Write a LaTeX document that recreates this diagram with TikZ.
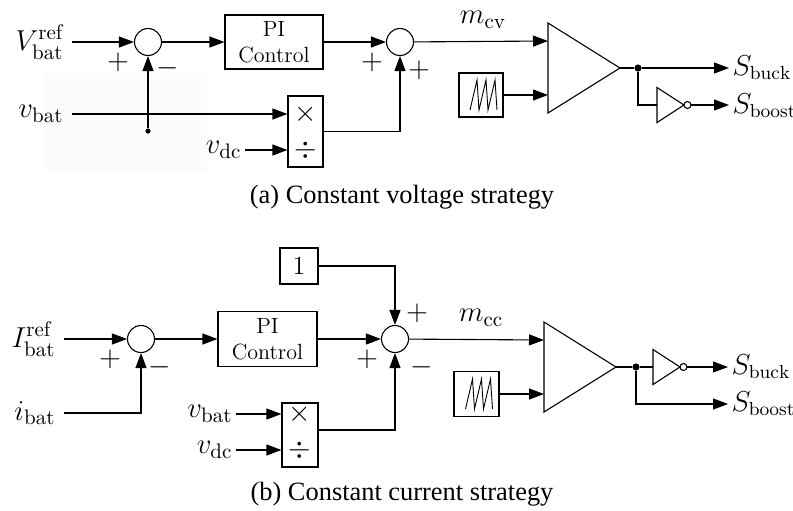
\documentclass[tikz,border=0pt]{standalone}
\usepackage{fontspec}
\newfontfamily\capfont{Liberation Serif}
\usepackage{amsmath}
\usetikzlibrary{arrows.meta,calc,positioning}
\tikzset{
  arr/.style={-{Triangle[length=7.5pt,width=5.5pt]}},
  sumblk/.style={circle,draw,minimum size=13.5pt,inner sep=0pt},   % summing junction
  blk/.style={draw,align=center,inner sep=0pt},                     % plain block
  big/.style={font=\fontsize{15}{18}\selectfont},
  inlbl/.style={big,inner sep=4pt},                                 % far left inputs
  lbl/.style={big,inner sep=1.5pt},
  outlbl/.style={font=\fontsize{13.5}{16}\selectfont,inner sep=1.5pt,anchor=west},
  sign/.style={inner sep=0pt,font=\fontsize{14}{16}\selectfont},
  junc/.style={circle,fill=black,inner sep=0pt,minimum size=3.6pt},
  tap/.style={circle,fill=black,inner sep=0pt,minimum size=2.6pt},
  capt/.style={font=\capfont\fontsize{13.2}{16}\selectfont},
}
% comparator: name, left x, centre y
\newcommand{\cmpr}[3]{%
  \draw (#2,#3-45) -- (#2+72,#3) -- (#2,#3+45) -- cycle;
  \coordinate (#1-p) at (#2,#3-27);
  \coordinate (#1-m) at (#2,#3+27);
  \coordinate (#1-o) at (#2+72,#3);
}
% inverter: name, left x, centre y
\newcommand{\notg}[3]{%
  \draw (#2,#3-17.5) -- (#2+27,#3) -- (#2,#3+17.5) -- cycle;
  \draw[fill=white] (#2+30.5,#3) circle[radius=1.75pt];
  \coordinate (#1-i) at (#2,#3);
  \coordinate (#1-o) at (#2+34,#3);
}
% sawtooth symbol inside a block
\newcommand{\saw}[1]{%
  \draw[line width=0.45pt] ([shift={(-11,15)}]#1.center) -- ++(7,-30) -- ++(2,30)
    -- ++(7,-30) -- ++(2,30) -- ++(7,-30) -- ++(2,30);
}

\begin{document}
\begin{tikzpicture}[x=0.5pt,y=-0.5pt,line width=0.55pt,font=\fontsize{11}{13}\selectfont]
  \useasboundingbox (0,0) rectangle (793,510);
  \fill[black!1.5] (45,73) rectangle (207,172);

  % (a) constant voltage
  \node[inlbl,anchor=east] (vrefA) at (72,42) {$V_{\mathrm{bat}}^{\mathrm{ref}}$};
  \node[sumblk] (sumA) at (148,42) {};
  \node[blk,minimum width=49pt,minimum height=27pt] (piA) at (274,42) {PI\\Control};
  \node[sumblk] (sumB) at (400,42) {};
  \node[inlbl,anchor=east] (vbatA) at (72,114) {$v_{\mathrm{bat}}$};
  \node[blk,minimum width=17.5pt,minimum height=35.5pt] (multA) at (305.5,131.5) {};
  \node[sign] (mulA) at (305.5,114) {$\times$};
  \node[sign] (divA) at (305.5,150) {$\div$};
  \node[lbl,anchor=east] (vdcA) at (245,150) {$v_{\mathrm{dc}}$};
  \node[tap] (tapA) at (148,131) {};
  \node[sign] (sA1) at (118,62) {$+$};
  \node[sign] (sA2) at (168,68) {$-$};
  \node[sign] (sB1) at (372,62) {$+$};
  \node[sign] (sB2) at (419,70) {$+$};
  \node[big] (mcvA) at (483,20) {$m_{\mathrm{cv}}$};
  \cmpr{cmpA}{548}{68}
  \node[blk,minimum size=22pt] (sawA) at (481,95) {};
  \saw{sawA}
  \node[junc] (jA) at (638,68) {};
  \notg{notA}{657}{105}
  \node[outlbl] (sbuckA) at (729,68) {$S_{\mathrm{buck}}$};
  \node[outlbl] (sboostA) at (729,106) {$S_{\mathrm{boost}}$};

  \draw[arr] (vrefA) -- (sumA);
  \draw[arr] (sumA) -- (piA);
  \draw[arr] (piA) -- (sumB);
  \draw[arr] (vbatA) -- (vbatA -| multA.west);
  \draw[arr] (vdcA) -- (vdcA -| multA.west);
  \draw[arr] (tapA) -- (sumA.south);
  \draw[arr] (multA.east) -| (sumB.south);
  \draw[arr] (sumB) -- (cmpA-p);
  \draw[arr] (sawA) -- (cmpA-m);
  \draw (cmpA-o) -- (jA);
  \draw[arr] (jA) -- (sbuckA.west);
  \draw (jA) |- (notA-i);
  \draw[arr] (notA-o) -- (notA-o -| sboostA.west);
  \node[capt] (capA) at (402,197) {(a) Constant voltage strategy};

  % (b) constant current
  \node[blk,minimum width=19pt,minimum height=18pt,font=\fontsize{13}{15}\selectfont] (oneB) at (299,266) {1};
  \node[inlbl,anchor=east] (irefB) at (64,339) {$I_{\mathrm{bat}}^{\mathrm{ref}}$};
  \node[sumblk] (sumC) at (141,339) {};
  \node[blk,minimum width=49.5pt,minimum height=27.5pt] (piB) at (267.5,339) {PI\\Control};
  \node[sumblk] (sumD) at (395,339) {};
  \node[inlbl,anchor=east] (ibatB) at (64,413) {$i_{\mathrm{bat}}$};
  \node[blk,minimum width=18pt,minimum height=32pt] (multB) at (300,435) {};
  \node[sign] (mulB) at (300,414) {$\times$};
  \node[sign] (divB) at (300,450) {$\div$};
  \node[lbl,anchor=east] (vbatB) at (236,414) {$v_{\mathrm{bat}}$};
  \node[lbl,anchor=east] (vdcB) at (236,450) {$v_{\mathrm{dc}}$};
  \node[sign] (sC1) at (110,359) {$+$};
  \node[sign] (sC2) at (160,367) {$-$};
  \node[sign] (sD1) at (367,359) {$+$};
  \node[sign] (sD2) at (417,313) {$+$};
  \node[sign] (sD3) at (422,367) {$-$};
  \node[big] (mccB) at (481,318) {$m_{\mathrm{cc}}$};
  \cmpr{cmpB}{544}{367}
  \node[blk,minimum size=22.5pt] (sawB) at (476.5,394) {};
  \saw{sawB}
  \node[junc] (jB) at (636,367) {};
  \notg{notB}{653}{367}
  \node[outlbl] (sbuckB) at (728,367) {$S_{\mathrm{buck}}$};
  \node[outlbl] (sboostB) at (728,404) {$S_{\mathrm{boost}}$};

  \draw[arr] (irefB) -- (sumC);
  \draw[arr] (ibatB) -| (sumC.south);
  \draw[arr] (sumC) -- (piB);
  \draw[arr] (piB) -- (sumD);
  \draw[arr] (oneB) -| (sumD.north);
  \draw[arr] (vbatB) -- (vbatB -| multB.west);
  \draw[arr] (vdcB) -- (vdcB -| multB.west);
  \draw[arr] (multB.east |- 0,430) -| (sumD.south);
  \draw[arr] (sumD) -- (cmpB-p);
  \draw[arr] (sawB) -- (cmpB-m);
  \draw (cmpB-o) -- (jB);
  \draw (jB) -- (notB-i);
  \draw[arr] (notB-o) -- (sbuckB.west);
  \draw[arr] (jB) |- (sboostB.west);
  \node[capt] (capB) at (402,494) {(b) Constant current strategy};
\end{tikzpicture}
\end{document}
